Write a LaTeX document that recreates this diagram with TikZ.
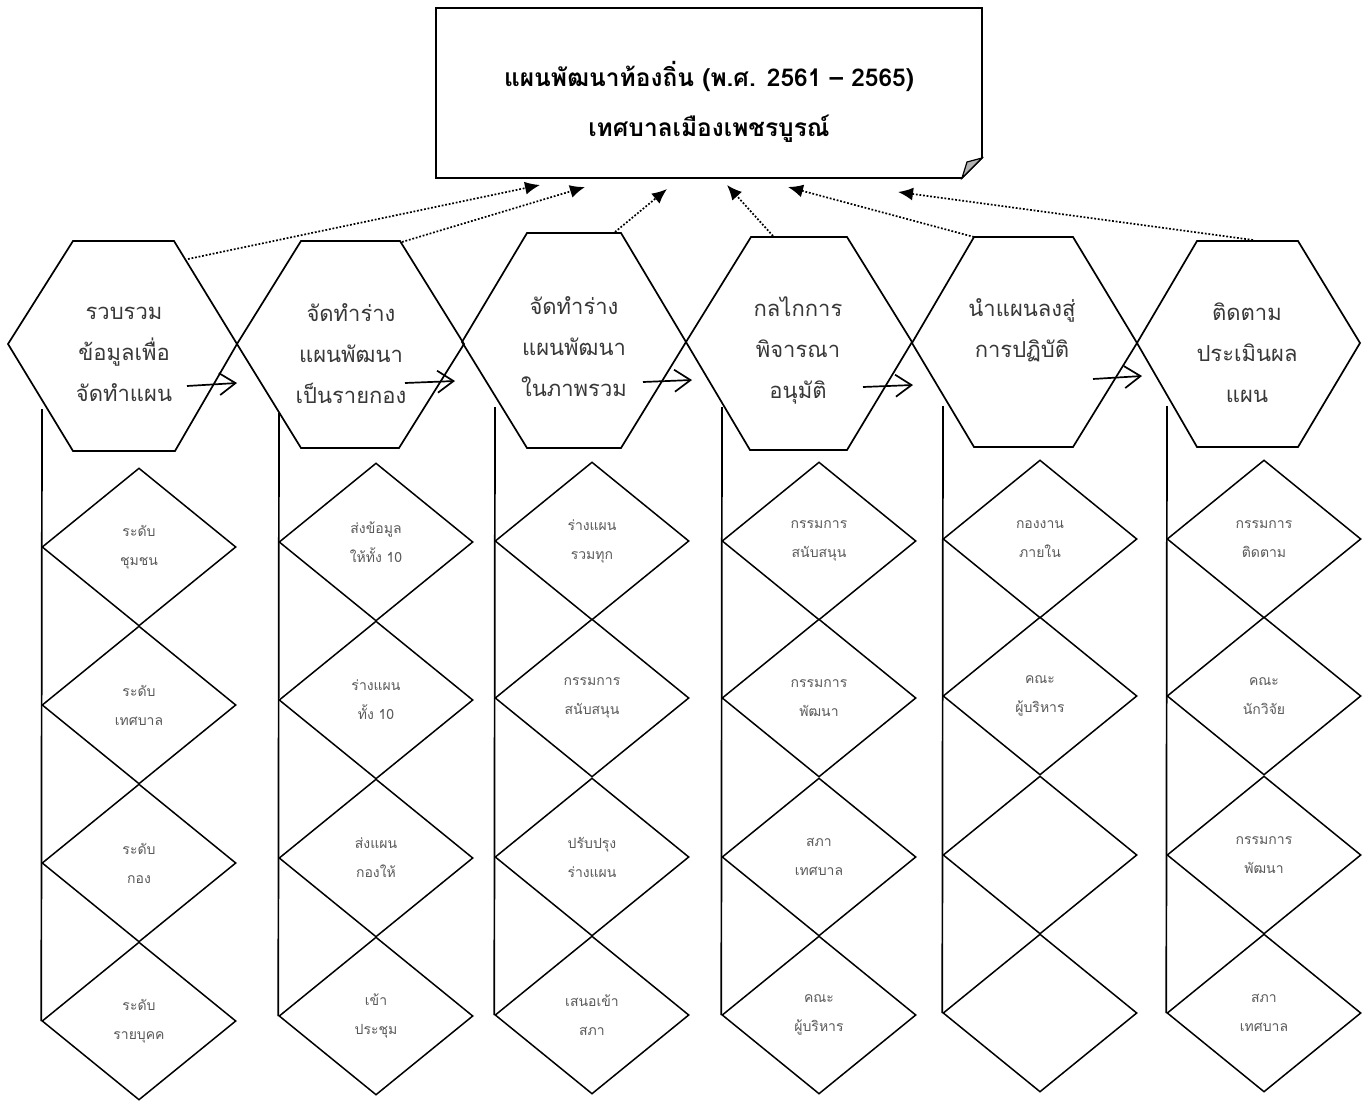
\documentclass[tikz,border=0pt]{standalone}
\usepackage{fontspec}
\newfontfamily\thai[Script=Thai]{Loma}
\usetikzlibrary{arrows.meta,shapes.geometric}
\begin{document}
\begin{tikzpicture}[x=1pt,y=-1pt,
  shapeline/.style={draw=black,line width=1.7pt,line join=miter},
  hextext/.style={font=\thai\fontsize{22}{41}\selectfont,text=black!78,align=center,inner sep=0pt},
  titletext/.style={font=\thai\bfseries\fontsize{24.5}{50}\selectfont,align=center,inner sep=0pt},
  dia/.style={draw=black,line width=1.5pt,shape=diamond,minimum width=194pt,minimum height=158pt,inner sep=0pt,
    font=\thai\fontsize{14}{29}\selectfont,text=black!65,align=center},
  colline/.style={draw=black,line width=1.7pt},
  flow/.style={line width=1.7pt,-{Straight Barb[length=16pt,width=22pt,line width=1.7pt]}},
  upflow/.style={line width=1.7pt,dash pattern=on 1.8pt off 1.8pt,-{Latex[length=15pt,width=13pt]}}
]
\useasboundingbox (0,0) rectangle (1367,1102);

% ---------- title box ----------
\coordinate (bTL) at (436,8);
\coordinate (bTR) at (982,8);
\coordinate (bR) at (982,158);
\coordinate (bB) at (962,178);
\coordinate (bBL) at (436,178);
\coordinate (bF) at (967,162);
\draw[shapeline] (bTL) -- (bTR) -- (bR) -- (bB) -- (bBL) -- cycle;
\draw[line width=1.2pt,fill=black!30] (bB) -- (bR) -- (bF) -- cycle;
\node[titletext] (title) at (709,102) {แผนพัฒนาท้องถิ่น (พ.ศ. 2561 – 2565)\\เทศบาลเมืองเพชรบูรณ์};

% ---------- hexagons ----------
\draw[shapeline] (73,241) -- (174,241) -- (237,344) -- (175,451) -- (73,451) -- (8,344) -- cycle;
\draw[shapeline] (301,241) -- (400,241) -- (464,344) -- (399,448) -- (301,448) -- (237,344) -- cycle;
\draw[shapeline] (527,233) -- (621,233) -- (686,342) -- (621,448) -- (527,448) -- (462,342) -- cycle;
\draw[shapeline] (751,237) -- (847,237) -- (912,342) -- (847,450) -- (750,450) -- (686,342) -- cycle;
\draw[shapeline] (974,237) -- (1073,237) -- (1137,343) -- (1073,447) -- (974,447) -- (912,343) -- cycle;
\draw[shapeline] (1197,241) -- (1298,241) -- (1360,343) -- (1298,447) -- (1197,447) -- (1137,343) -- cycle;

\node[hextext] (h1) at (124,354) {รวบรวม\\ข้อมูลเพื่อ\\จัดทำแผน};
\node[hextext] (h2) at (351,354) {จัดทำร่าง\\แผนพัฒนา\\เป็นรายกอง};
\node[hextext] (h3) at (574,347) {จัดทำร่าง\\แผนพัฒนา\\ในภาพรวม};
\node[hextext] (h4) at (798,350) {กลไกการ\\พิจารณา\\อนุมัติ};
\node[hextext] (h5) at (1022,330) {นำแผนลงสู่\\การปฏิบัติ};
\node[hextext] (h6) at (1247,353) {ติดตาม\\ประเมินผล\\แผน};

% ---------- flow arrows between hexagons ----------
\coordinate (a1s) at (187,386); \coordinate (a1e) at (237,383);
\coordinate (a2s) at (405,383); \coordinate (a2e) at (455,381);
\coordinate (a3s) at (643,382); \coordinate (a3e) at (692,380);
\coordinate (a4s) at (863,387); \coordinate (a4e) at (913,385);
\coordinate (a5s) at (1093,379); \coordinate (a5e) at (1142,376);
\draw[flow] (a1s) -- (a1e);
\draw[flow] (a2s) -- (a2e);
\draw[flow] (a3s) -- (a3e);
\draw[flow] (a4s) -- (a4e);
\draw[flow] (a5s) -- (a5e);

% ---------- dotted arrows to the title box ----------
\coordinate (u1s) at (188,259); \coordinate (u1e) at (540,185);
\coordinate (u2s) at (402,242); \coordinate (u2e) at (585,187);
\coordinate (u3s) at (615,232); \coordinate (u3e) at (667,189);
\coordinate (u4s) at (773,236); \coordinate (u4e) at (727,185);
\coordinate (u5s) at (974,237); \coordinate (u5e) at (788,187);
\coordinate (u6s) at (1253,240); \coordinate (u6e) at (898,192);
\draw[upflow] (u1s) -- (u1e);
\draw[upflow] (u2s) -- (u2e);
\draw[upflow] (u3s) -- (u3e);
\draw[upflow] (u4s) -- (u4e);
\draw[upflow] (u5s) -- (u5e);
\draw[upflow] (u6s) -- (u6e);

% ---------- diamond columns ----------
% column 1
\node[dia] (d11) at (139,547) {ระดับ\\ชุมชน};
\node[dia] (d12) at (139,705) {ระดับ\\เทศบาล};
\node[dia] (d13) at (139,863) {ระดับ\\กอง};
\node[dia] (d14) at (139,1021) {ระดับ\\รายบุคค};
\coordinate (v1) at (42,409);
\draw[colline] (v1) -- (d14.west);
% column 2
\node[dia] (d21) at (376,542) {ส่งข้อมูล\\ให้ทั้ง 10};
\node[dia] (d22) at (376,700) {ร่างแผน\\ทั้ง 10};
\node[dia] (d23) at (376,858) {ส่งแผน\\กองให้};
\node[dia] (d24) at (376,1016) {เข้า\\ประชุม};
\coordinate (v2) at (279,413);
\draw[colline] (v2) -- (d24.west);
% column 3
\node[dia] (d31) at (592,541) {ร่างแผน\\รวมทุก};
\node[dia] (d32) at (592,698) {กรรมการ\\สนับสนุน};
\node[dia] (d33) at (592,857) {ปรับปรุง\\ร่างแผน};
\node[dia] (d34) at (592,1015) {เสนอเข้า\\สภา};
\coordinate (v3) at (495,407);
\draw[colline] (v3) -- (d34.west);
% column 4
\node[dia] (d41) at (819,541) {กรรมการ\\สนับสนุน};
\node[dia] (d42) at (819,698) {กรรมการ\\พัฒนา};
\node[dia] (d43) at (819,857) {สภา\\เทศบาล};
\node[dia] (d44) at (819,1015) {คณะ\\ผู้บริหาร};
\coordinate (v4) at (722,407);
\draw[colline] (v4) -- (d44.west);
% column 5
\node[dia] (d51) at (1040,539) {กองงาน\\ภายใน};
\node[dia] (d52) at (1040,696) {คณะ\\ผู้บริหาร};
\node[dia] (d53) at (1040,855) {};
\node[dia] (d54) at (1040,1013) {};
\coordinate (v5) at (943,406);
\draw[colline] (v5) -- (d54.west);
% column 6
\node[dia] (d61) at (1264,539) {กรรมการ\\ติดตาม};
\node[dia] (d62) at (1264,696) {คณะ\\นักวิจัย};
\node[dia] (d63) at (1264,855) {กรรมการ\\พัฒนา};
\node[dia] (d64) at (1264,1013) {สภา\\เทศบาล};
\coordinate (v6) at (1167,406);
\draw[colline] (v6) -- (d64.west);
\end{tikzpicture}
\end{document}
